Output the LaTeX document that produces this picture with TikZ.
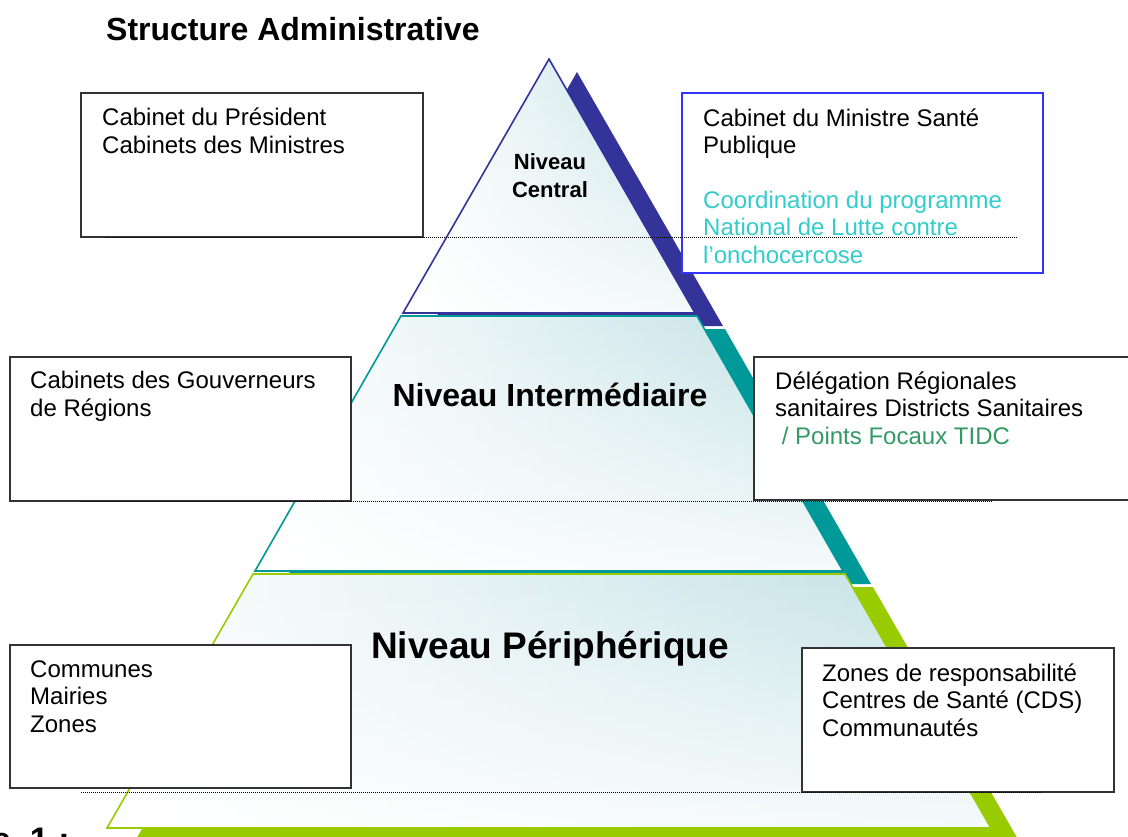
\documentclass[tikz,border=0pt]{standalone}
\usepackage{fontspec}
\setmainfont{Liberation Sans}
\usetikzlibrary{fadings}

\definecolor{bleunuit}{HTML}{333399}
\definecolor{sarcelle}{HTML}{009999}
\definecolor{vertpomme}{HTML}{99CC00}
\definecolor{cyanclair}{HTML}{33CCCC}
\definecolor{vertfonce}{HTML}{339966}
\definecolor{bleuvif}{HTML}{3333FF}
\definecolor{bleuglace}{HTML}{C0E0E4}

\tikzset{
  boite/.style={draw=black!80, line width=1.1pt, fill=white},
  texte/.style={anchor=base west, align=left, inner sep=0pt,
    font=\fontsize{24}{27.4}\selectfont},
  niveau/.style={anchor=base, inner sep=0pt, font=\bfseries\fontsize{32}{36}\selectfont},
  pointille/.style={line width=1pt, dash pattern=on 1pt off 1pt},
  etage/.style={left color=white, right color=bleuglace},
  voile/.style={white, path fading=north, fill opacity=0.85}
}

\begin{document}
\begin{tikzpicture}[x=1pt, y=-1pt]
    \useasboundingbox (0,0) rectangle (1128,836);
    \clip (0,0) rectangle (1128,836);

    \fill[vertpomme, shift={(28,13)}] (253,574) -- (845,574) -- (991,828) -- (107,828) -- cycle;
    \fill[sarcelle, shift={(28,13)}] (401,316) -- (697,316) -- (843,571) -- (255,571) -- cycle;
    \fill[bleunuit, shift={(28,13)}] (549,59) -- (695,313) -- (403,313) -- cycle;

    \shade[etage] (549,59) -- (695,313) -- (403,313) -- cycle;
    \fill[voile] (549,59) -- (695,313) -- (403,313) -- cycle;
    \draw[bleunuit, line width=1.6pt] (549,59) -- (695,313) -- (403,313) -- cycle;

    \shade[etage] (401,316) -- (697,316) -- (843,571) -- (255,571) -- cycle;
    \fill[voile] (401,316) -- (697,316) -- (843,571) -- (255,571) -- cycle;
    \draw[sarcelle, line width=1.6pt] (401,316) -- (697,316) -- (843,571) -- (255,571) -- cycle;

    \shade[etage] (253,574) -- (845,574) -- (991,828) -- (107,828) -- cycle;
    \fill[voile] (253,574) -- (845,574) -- (991,828) -- (107,828) -- cycle;
    \draw[vertpomme, line width=1.6pt] (253,574) -- (845,574) -- (991,828) -- (107,828) -- cycle;

    \node[anchor=base west, inner sep=0pt, font=\bfseries\fontsize{32}{36}\selectfont] (titre) at (106,40) {Structure Administrative};
    \node[anchor=base, align=center, inner sep=0pt, font=\bfseries\fontsize{22}{28}\selectfont] (central) at (550,197) {Niveau\\Central};
    \node[niveau] (interm) at (550,406) {Niveau Intermédiaire};
    \node[niveau, font=\bfseries\fontsize{37}{40}\selectfont] (periph) at (550,658) {Niveau Périphérique};

    \draw[boite] (81,93) rectangle (423,237);
    \draw[boite, draw=bleuvif] (682,93) rectangle (1043,273);
    \draw[boite] (10,357) rectangle (351,501);
    \draw[boite] (754,357) rectangle (1140,500);
    \draw[boite] (10,645) rectangle (351,788);
    \draw[boite] (802,648) rectangle (1114,792);

    \node[texte] (president) at (102,153) {Cabinet du Président\\Cabinets des Ministres};
    \node[texte] (ministre) at (703,263) {Cabinet du Ministre Santé\\Publique\\[27.4pt]
      \textcolor{cyanclair}{Coordination du programme}\\
      \textcolor{cyanclair}{National de Lutte contre}\\
      \textcolor{cyanclair}{l’onchocercose}};
    \node[texte] (gouverneurs) at (30,416) {Cabinets des Gouverneurs\\de Régions};
    \node[texte] (delegation) at (775,444) {Délégation Régionales\\sanitaires Districts Sanitaires\\
      \textcolor{vertfonce}{\ / Points Focaux TIDC}};
    \node[texte] (communes) at (30,732) {Communes\\Mairies\\Zones};
    \node[texte] (zones) at (822,736) {Zones de responsabilité\\Centres de Santé (CDS)\\Communautés};

    \draw[pointille] (106,237) -- (1017,237);
    \draw[pointille] (81,501) -- (993,501);
    \draw[pointille] (81,792) -- (1043,792);

    \node[anchor=base west, inner sep=0pt, font=\bfseries\fontsize{34}{40}\selectfont] (legende) at (-8,851) {e\ \ 1 :};
  \end{tikzpicture}
\end{document}
